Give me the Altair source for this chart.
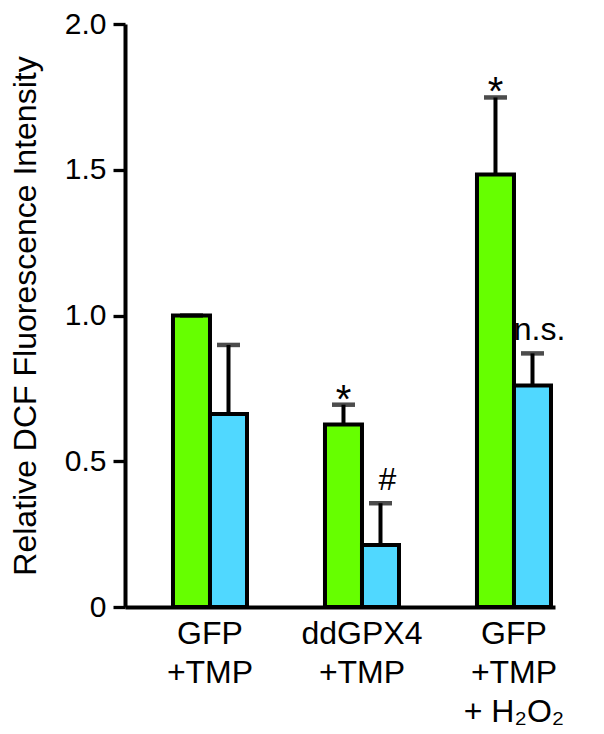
import altair as alt
import pandas as pd

# ---- data ----
groups = ["GFP|+TMP", "ddGPX4|+TMP", "GFP|+TMP|+ H₂O₂"]
series = ["GFP", "ddGPX4"]
green_means = [1.00, 0.626, 1.484]
green_upper = [1.00, 0.694, 1.748]
blue_means = [0.662, 0.213, 0.760]
blue_upper = [0.899, 0.356, 0.870]
green_marks = ["", "*", "*"]
blue_marks = ["", "#", "n.s."]
y_ticks = [0, 0.5, 1.0, 1.5, 2.0]

GREEN = "#66FF00"
BLUE = "#50D8FF"
FONT = "Liberation Sans"
TITLE = "Relative DCF Fluorescence Intensity"

rows = []
for i, g in enumerate(groups):
    rows.append({"group": g, "series": series[0], "mean": green_means[i],
                 "upper": green_upper[i], "mark": green_marks[i]})
    rows.append({"group": g, "series": series[1], "mean": blue_means[i],
                 "upper": blue_upper[i], "mark": blue_marks[i]})
df = pd.DataFrame(rows)

yscale = alt.Scale(domain=[0, 2], nice=False)
yaxis = alt.Axis(
    values=y_ticks,
    labelExpr="datum.value == 0 ? '0' : format(datum.value, '.1f')",
    labelFontSize=30, labelColor="black", labelPadding=7,
    tickSize=12, tickWidth=3.3, tickColor="black",
    domainWidth=4, domainColor="black", grid=False,
    titleFontSize=32, titleFontWeight="normal", titleColor="black",
    titlePadding=22,
)


def yenc(field):
    return alt.Y(field, scale=yscale, axis=yaxis, title=TITLE)


base = alt.Chart(df).encode(
    x=alt.X(
        "group:N", sort=groups, title=None,
        scale=alt.Scale(paddingInner=0.513, paddingOuter=0.171, align=0.923),
        axis=alt.Axis(
            labelExpr="split(datum.label, '|')", labelAngle=0,
            labelFontSize=32, labelColor="black", labelLineHeight=39,
            labelPadding=11, ticks=False, domainWidth=4, domainColor="black",
        ),
    ),
    xOffset=alt.XOffset("series:N", sort=series,
                        scale=alt.Scale(paddingInner=0, paddingOuter=0)),
)

bars = base.mark_bar(stroke="black", strokeWidth=4).encode(
    y=yenc("mean:Q"),
    color=alt.Color("series:N", scale=alt.Scale(domain=series, range=[GREEN, BLUE]),
                    legend=None),
)
rules = base.mark_rule(strokeWidth=4, color="black").encode(
    y=yenc("mean:Q"), y2="upper:Q"
)
caps = base.mark_tick(size=23, thickness=4.5, color="black", orient="horizontal").encode(
    y=yenc("upper:Q")
)
stars = base.transform_filter("datum.mark == '*'").mark_text(
    fontSize=40, baseline="alphabetic", dy=8, color="black"
).encode(y=yenc("upper:Q"), text="mark:N")
others = base.transform_filter("datum.mark != '*' && datum.mark != ''").mark_text(
    fontSize=32, baseline="alphabetic", dy=-13, dx=7, color="black"
).encode(y=yenc("upper:Q"), text="mark:N")

chart = (
    alt.layer(bars, rules, caps, stars, others)
    .properties(
        width=430, height=583,
        autosize=alt.AutoSizeParams(type="none"),
        padding={"left": 117, "top": 16, "right": 30, "bottom": 124},
    )
    .configure(font=FONT)
    .configure_view(stroke=None)
)

chart.save("out.html", embed_options={"renderer": "svg", "actions": False})
